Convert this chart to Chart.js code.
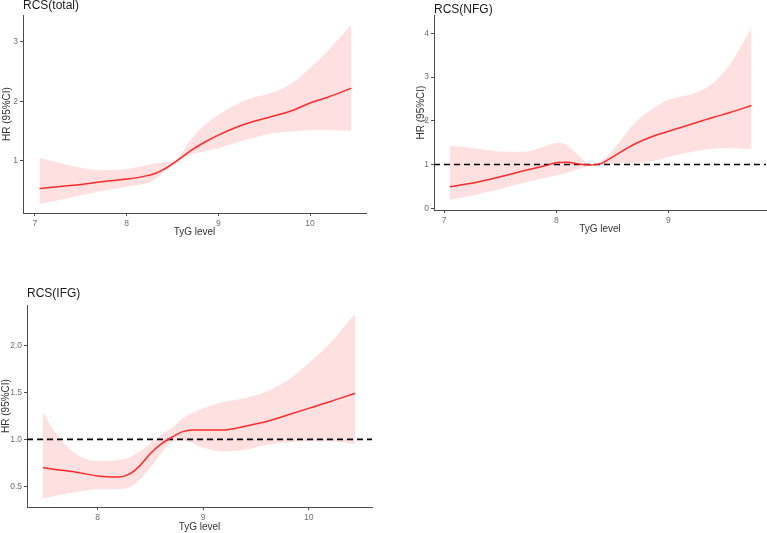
<!DOCTYPE html>
<html>
<head>
<meta charset="utf-8">
<script src="https://cdn.jsdelivr.net/npm/chart.js@4"></script>
<style>
  body { margin: 0; background: #fff; width: 767px; height: 533px; position: relative; overflow: hidden; font-family: "Liberation Sans", Arial, sans-serif; }
  .panel { position: absolute; }
  .ttl { position: absolute; font-size: 12px; color: #1a1a1a; white-space: nowrap; }
</style>
</head>
<body>
<div class="panel" style="left:0;top:0;width:380px;height:240px"><canvas id="totalChart"></canvas></div>
<div class="panel" style="left:380px;top:0;width:387px;height:240px"><canvas id="nfgChart"></canvas></div>
<div class="panel" style="left:0;top:270px;width:380px;height:263px"><canvas id="ifgChart"></canvas></div>
<div class="ttl" style="left:23px;top:-2px">RCS(total)</div>
<div class="ttl" style="left:434px;top:2px">RCS(NFG)</div>
<div class="ttl" style="left:27px;top:286px">RCS(IFG)</div>
<script>
// RCS(total)
const totalTyG   = [7.05, 7.3, 7.5, 7.7, 8.0, 8.2, 8.3, 8.4, 8.55, 8.7, 8.85, 9.0, 9.3, 9.6, 9.8, 10.0, 10.2, 10.45];
const totalHR    = [0.53, 0.57, 0.60, 0.64, 0.69, 0.74, 0.78, 0.85, 1.00, 1.17, 1.31, 1.43, 1.62, 1.75, 1.84, 1.97, 2.07, 2.22];
const totalUpper = [1.05, 0.95, 0.88, 0.84, 0.86, 0.92, 0.95, 0.97, 1.03, 1.35, 1.60, 1.77, 2.02, 2.15, 2.30, 2.56, 2.86, 3.29];
const totalLower = [0.27, 0.35, 0.42, 0.48, 0.56, 0.61, 0.68, 0.80, 0.97, 1.10, 1.16, 1.21, 1.35, 1.46, 1.49, 1.51, 1.51, 1.50];

// RCS(NFG)
const nfgTyG   = [7.05, 7.3, 7.5, 7.7, 7.9, 8.0, 8.1, 8.2, 8.3, 8.4, 8.5, 8.7, 8.9, 9.0, 9.25, 9.4, 9.55, 9.74];
const nfgHR    = [0.49, 0.60, 0.72, 0.85, 0.97, 1.04, 1.05, 1.01, 0.99, 1.02, 1.17, 1.47, 1.68, 1.76, 1.96, 2.08, 2.19, 2.35];
const nfgUpper = [1.43, 1.36, 1.30, 1.29, 1.42, 1.50, 1.44, 1.20, 1.02, 1.08, 1.32, 1.95, 2.35, 2.48, 2.65, 2.86, 3.30, 4.12];
const nfgLower = [0.19, 0.32, 0.44, 0.58, 0.70, 0.75, 0.82, 0.90, 0.97, 1.00, 1.02, 1.04, 1.10, 1.17, 1.31, 1.36, 1.37, 1.35];

// RCS(IFG)
const ifgTyG   = [7.48, 7.6, 7.8, 8.0, 8.2, 8.3, 8.4, 8.5, 8.6, 8.7, 8.8, 8.9, 9.0, 9.2, 9.4, 9.6, 9.8, 10.0, 10.2, 10.44];
const ifgHR    = [0.70, 0.68, 0.65, 0.61, 0.60, 0.63, 0.72, 0.85, 0.95, 1.02, 1.08, 1.10, 1.10, 1.10, 1.14, 1.19, 1.26, 1.33, 1.40, 1.49];
const ifgUpper = [1.29, 1.07, 0.84, 0.77, 0.78, 0.81, 0.87, 0.96, 1.05, 1.12, 1.22, 1.28, 1.33, 1.40, 1.44, 1.51, 1.63, 1.81, 2.02, 2.34];
const ifgLower = [0.37, 0.40, 0.44, 0.47, 0.47, 0.49, 0.57, 0.70, 0.85, 0.97, 0.99, 0.96, 0.91, 0.87, 0.89, 0.94, 0.97, 0.98, 0.98, 0.95];

const refHR = 1;

const FONT = '"Liberation Sans", Arial, sans-serif';
const AXIS = '#4d4d4d';

function pts(xs, ys) {
    return xs.map((x, i) => ({ x: x, y: ys[i] }));
}

function makePanel(id, o) {
    const datasets = [
        { data: pts(o.x, o.hr), borderColor: '#ff2a2a', borderWidth: 1.5, pointRadius: 0, fill: false, cubicInterpolationMode: 'monotone' }
    ];
    if (o.refLine) {
        datasets.push({ data: [{ x: o.xmin, y: refHR }, { x: o.xmax, y: refHR }], borderColor: '#000', borderWidth: 1.6,
            borderDash: [6, 4], pointRadius: 0, fill: false });
    }
    const upIdx = datasets.length;
    datasets.push({ data: pts(o.x, o.up), borderWidth: 0, borderColor: 'rgba(0,0,0,0)', pointRadius: 0, fill: false, cubicInterpolationMode: 'monotone' });
    datasets.push({ data: pts(o.x, o.lo), borderWidth: 0, borderColor: 'rgba(0,0,0,0)', pointRadius: 0,
        fill: upIdx, backgroundColor: 'rgba(255,0,0,0.12)', cubicInterpolationMode: 'monotone' });

    return new Chart(document.getElementById(id).getContext('2d'), {
        type: 'line',
        data: { datasets: datasets },
        options: {
            responsive: true,
            maintainAspectRatio: false,
            animation: false,
            layout: { padding: o.pad },
            plugins: { legend: { display: false }, tooltip: { enabled: false } },
            scales: {
                x: {
                    type: 'linear', min: o.xmin, max: o.xmax,
                    ticks: { stepSize: 1, includeBounds: false, color: '#707070', font: { family: FONT, size: 8.5 }, padding: 3, maxRotation: 0 },
                    grid: { drawOnChartArea: false, drawTicks: true, tickLength: 3, color: AXIS },
                    border: { display: true, color: AXIS, width: 1 },
                    title: { display: true, text: 'TyG level', color: '#333', font: { family: FONT, size: 10 }, padding: { top: 0, bottom: 0 } },
                    afterFit: s => { s.height = o.xh; }
                },
                y: {
                    min: o.ymin, max: o.ymax,
                    ticks: { stepSize: o.ystep, includeBounds: false, color: '#707070', font: { family: FONT, size: 8.5 }, padding: 2,
                        callback: v => o.ydec ? v.toFixed(1) : v },
                    grid: { drawOnChartArea: false, drawTicks: true, tickLength: 3, color: AXIS },
                    border: { display: true, color: AXIS, width: 1 },
                    title: { display: true, text: 'HR (95%CI)', color: '#333', font: { family: FONT, size: 10 }, padding: { top: o.ytp, bottom: 0 } },
                    afterFit: s => { s.width = o.yw; }
                }
            }
        }
    });
}

makePanel('totalChart', { x: totalTyG, hr: totalHR, up: totalUpper, lo: totalLower, refLine: false,
    xmin: 6.87, xmax: 10.61, ymin: 0.12, ymax: 3.45, ystep: 1, ydec: false,
    pad: { left: 0, right: 14, top: 15, bottom: 2 }, xh: 25, yw: 23, ytp: 1.5 });

makePanel('nfgChart', { x: nfgTyG, hr: nfgHR, up: nfgUpper, lo: nfgLower, refLine: true,
    xmin: 6.91, xmax: 9.87, ymin: -0.04, ymax: 4.42, ystep: 1, ydec: false,
    pad: { left: 35, right: 1, top: 15, bottom: 5 }, xh: 25, yw: 19, ytp: 0 });

makePanel('ifgChart', { x: ifgTyG, hr: ifgHR, up: ifgUpper, lo: ifgLower, refLine: true,
    xmin: 7.33, xmax: 10.6, ymin: 0.28, ymax: 2.43, ystep: 0.5, ydec: true,
    pad: { left: 0, right: 8, top: 35, bottom: 0 }, xh: 26, yw: 27, ytp: 0 });
</script>
</body>
</html>
